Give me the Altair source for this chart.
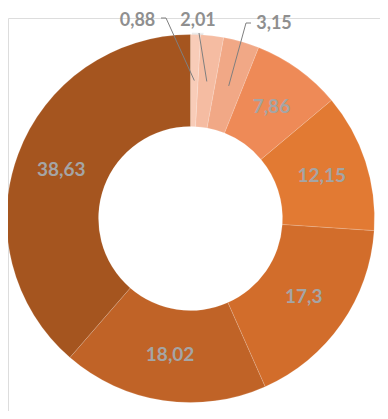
import math
import altair as alt
import pandas as pd

# ---- data ----
values = [0.88, 2.01, 3.15, 7.86, 12.15, 17.3, 18.02, 38.63]
labels = ["0,88", "2,01", "3,15", "7,86", "12,15", "17,3", "18,02", "38,63"]
colors = ["#F8CCB8", "#F5BCA2", "#F1A886", "#EE8A57", "#E27A33",
          "#D26D2B", "#C06327", "#A5551F"]
outside = ["0,88", "2,01", "3,15"]

# ---- layout / style ----
TOP_PAD = 10
CX, CY = 182.5, 210.5 - TOP_PAD
R_OUT, R_IN = 184, 92
R_LAB = 138
FONT = "Lato"
# outside label anchors and leader bends (pixels, relative to page minus margin)
out_label_pos = {"0,88": (129.5, 13), "2,01": (190, 13), "3,15": (266, 16)}
out_leader_bends = {
    "0,88": [(158, 10), (153, 10)],
    "2,01": [(191, 25)],
    "3,15": [(238, 15), (243, 15)],
}

total = sum(values)
rows = []
cum = 0
for i, (v, lab) in enumerate(zip(values, labels)):
    mid = (cum + v / 2) / total * 2 * math.pi
    cum += v
    rows.append({"idx": i, "label": lab, "value": v,
                 "inner_text": "" if lab in outside else lab,
                 "mid": mid})
df = pd.DataFrame(rows)

base = alt.Chart(df)

shadow_df = pd.DataFrame({"v": [1]})
shadow1 = alt.Chart(shadow_df).mark_arc(
    innerRadius=R_OUT - 2, outerRadius=R_OUT + 4, color="#000000", opacity=0.05
).encode(theta=alt.Theta("v:Q"), x=alt.value(CX + 1.5), y=alt.value(CY + 2))
shadow2 = alt.Chart(shadow_df).mark_arc(
    innerRadius=R_OUT - 2, outerRadius=R_OUT + 2, color="#000000", opacity=0.06
).encode(theta=alt.Theta("v:Q"), x=alt.value(CX + 1), y=alt.value(CY + 1))

arcs = base.mark_arc(innerRadius=R_IN, outerRadius=R_OUT,
                     stroke="#ffffff", strokeWidth=0.4, strokeOpacity=0.4).encode(
    theta=alt.Theta("value:Q", stack=True),
    color=alt.Color("label:N", scale=alt.Scale(domain=labels, range=colors), legend=None),
    order=alt.Order("idx:Q"),
    x=alt.value(CX), y=alt.value(CY),
)

inner_text = base.mark_text(
    radius=R_LAB, font=FONT, fontSize=19, fontWeight="bold", color="#A5A5A5",
    baseline="middle", align="center"
).encode(
    theta=alt.Theta("value:Q", stack=True),
    order=alt.Order("idx:Q"),
    text="inner_text:N",
    x=alt.value(CX), y=alt.value(CY),
)

# leader lines: start at slice middle (computed from data), bend to label
line_rows = []
for r in rows:
    if r["label"] in outside:
        sx = CX + R_LAB * math.sin(r["mid"])
        sy = CY - R_LAB * math.cos(r["mid"])
        pts = [(sx, sy)] + [(px, py - TOP_PAD) for px, py in out_leader_bends[r["label"]]]
        for k, (px, py) in enumerate(pts):
            line_rows.append({"label": r["label"], "k": k, "px": px, "py": py})
line_df = pd.DataFrame(line_rows)

leaders = alt.Chart(line_df).mark_line(color="#7F7F7F", strokeWidth=1).encode(
    x=alt.X("px:Q", scale=None),
    y=alt.Y("py:Q", scale=None),
    detail="label:N",
    order="k:Q",
)

out_df = pd.DataFrame([{"label": l, "px": out_label_pos[l][0],
                        "py": out_label_pos[l][1] - TOP_PAD} for l in outside])
out_text = alt.Chart(out_df).mark_text(
    font=FONT, fontSize=18, fontWeight="bold", color="#8F8F8F",
    baseline="middle", align="center"
).encode(
    x=alt.X("px:Q", scale=None),
    y=alt.Y("py:Q", scale=None),
    text="label:N",
)

chart = alt.layer(shadow1, shadow2, arcs, inner_text, leaders, out_text).properties(
    width=372, height=393,
    padding={"left": 0, "top": TOP_PAD, "right": 0, "bottom": 0},
    autosize=alt.AutoSizeParams(type="none"),
).configure_view(stroke=None).configure(background="#ffffff")

chart.save("out.html", embed_options={"renderer": "svg", "actions": False})
